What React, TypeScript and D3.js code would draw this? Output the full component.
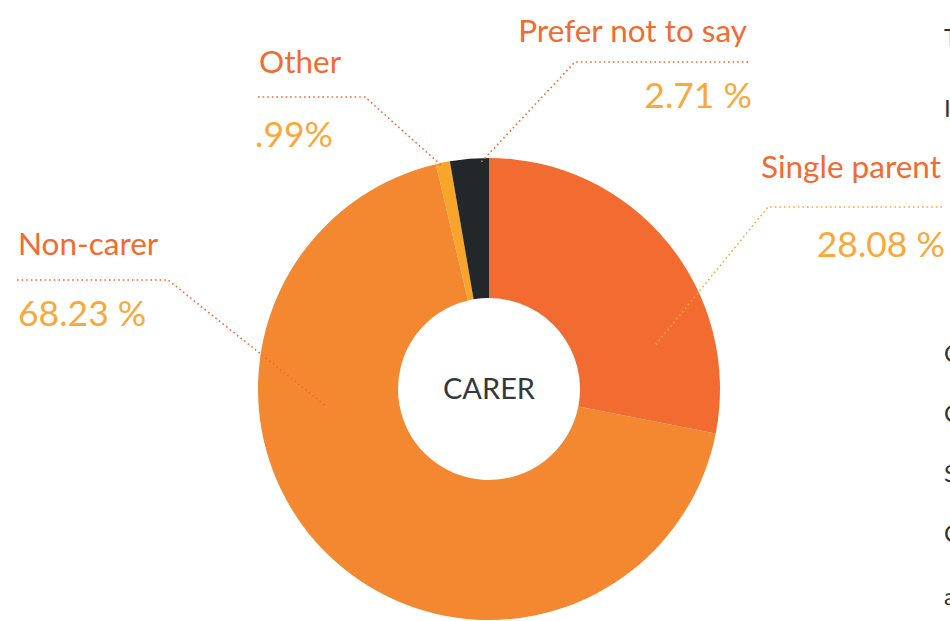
import React from "react";
import * as d3 from "d3";

const categories = ["Single parent", "Non-carer", "Other", "Prefer not to say"];
const values = [28.08, 68.23, 0.99, 2.71];
const valueLabels = ["28.08 %", "68.23 %", ".99%", "2.71 %"];
const sliceColors = ["#F26B30", "#F38831", "#F9A52B", "#22272A"];
const centerTitle = "CARER";
const sideLetters = ["T", "I", "C", "C", "S", "C", "a"];

const W = 950;
const H = 621;
const CX = 489;
const CY = 389;
const R_OUT = 231;
const R_IN = 91;

const NAME_COLOR = "#F26B30";
const VALUE_COLOR = "#F9A83A";
const FONT = "Lato, 'Open Sans', sans-serif";

// Label layout (annotation placement)
const labelLayout = [
  { side: "right", edge: 941, valEdge: 945, knee: 768, lineY: 207, nameY: 178, valueY: 257, angle: 75.2, r: 172, lineColor: "#F9A83A" },
  { side: "left", edge: 18, valEdge: 18, knee: 168, lineY: 280, nameY: 255, valueY: 326, angle: 264.4, r: 165, lineColor: "#F26B30" },
  { side: "left", edge: 259, valEdge: 255, knee: 365, lineY: 97, nameY: 73, valueY: 147, angle: -12.1, r: 229, lineColor: "#F26B30" },
  { side: "right", edge: 747, valEdge: 752, knee: 575, lineY: 62, nameY: 42, valueY: 108, angle: -2, r: 227, lineColor: "#F26B30" },
];
const sideLetterY = [46, 117, 362, 422, 482, 542, 605];

export default function App() {
  const pie = d3.pie<number>().sort(null).value((d) => d)(values);
  const arc = d3.arc<d3.PieArcDatum<number>>().innerRadius(R_IN).outerRadius(R_OUT);

  return (
    <svg
      width={W}
      height={H}
      viewBox={`0 0 ${W} ${H}`}
      style={{ position: "absolute", left: 0, top: 0, background: "#fff" }}
    >
      <g transform={`translate(${CX},${CY})`}>
        {pie.map((p, i) => (
          <path key={categories[i]} d={arc(p) || ""} fill={sliceColors[i]} />
        ))}
        <text
          x={0}
          y={0}
          dy="0.36em"
          textAnchor="middle"
          fontFamily={FONT}
          fontSize={29}
          fill="#33383b"
        >
          {centerTitle}
        </text>
      </g>
      {categories.map((c, i) => {
        const L = labelLayout[i];
        const [tx, ty] = d3.pointRadial((L.angle * Math.PI) / 180, L.r);
        const pts: [number, number][] = [
          [L.side === "right" ? L.edge + 1 : L.edge - 1, L.lineY],
          [L.knee, L.lineY],
          [CX + tx, CY + ty],
        ];
        const line = d3.line()(pts) || "";
        const anchor = L.side === "right" ? "end" : "start";
        return (
          <g key={c}>
            <path
              d={line}
              fill="none"
              stroke={L.lineColor}
              strokeWidth={1.6}
              strokeDasharray="1.6 3"
            />
            <text
              x={L.edge}
              y={L.nameY}
              textAnchor={anchor}
              fontFamily={FONT}
              fontSize={31.5}
              fill={NAME_COLOR}
            >
              {c}
            </text>
            <text
              x={L.valEdge}
              y={L.valueY}
              textAnchor={anchor}
              fontFamily={FONT}
              fontSize={35.5}
              fill={VALUE_COLOR}
            >
              {valueLabels[i]}
            </text>
          </g>
        );
      })}
      {sideLetters.map((s, i) => (
        <text
          key={i}
          x={944}
          y={sideLetterY[i]}
          fontFamily={FONT}
          fontSize={24}
          fill="#333"
        >
          {s}
        </text>
      ))}
    </svg>
  );
}
